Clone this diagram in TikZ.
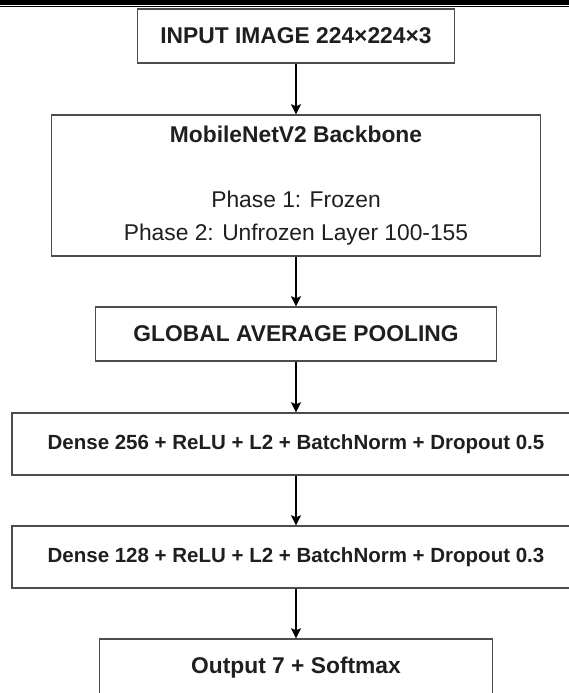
\documentclass[tikz,border=0pt]{standalone}
\usepackage{fontspec}
\setmainfont{Liberation Sans}
\usetikzlibrary{arrows.meta}
\begin{document}
\begin{tikzpicture}[x=1pt,y=-1pt,
  box/.style={draw=black!70, line width=1.4pt, fill=white, inner sep=0pt, align=center, text=black!88},
  boldbig/.style={font=\fontsize{22.8}{32.5}\selectfont\bfseries},
  regbig/.style={font=\fontsize{22.8}{32.5}\selectfont},
  boldmid/.style={font=\fontsize{20.5}{26}\selectfont\bfseries},
  arr/.style={-{Stealth[length=10pt,width=10pt,inset=2pt]}, line width=2pt, black}]
\useasboundingbox (0,0) rectangle (569,693);
\clip (0,0) rectangle (569,693);
% top rule
\fill[black] (0,0) rectangle (569,5);
\fill[black] (0,6) rectangle (569,7.4);
% boxes
\node[box,boldbig,minimum width=317pt,minimum height=54pt] (in) at (296,36) {INPUT IMAGE 224×224×3};
\node[box,regbig,minimum width=489pt,minimum height=141pt] (bb) at (296,185.5)
  {\textbf{MobileNetV2 Backbone}\\[32.5pt]Phase 1: Frozen\\Phase 2: Unfrozen Layer 100-155};
\node[box,boldbig,minimum width=401pt,minimum height=54pt] (gap) at (296,334) {GLOBAL AVERAGE POOLING};
\node[box,boldmid,minimum width=568pt,minimum height=62pt] (d1) at (296,444) {Dense 256 + ReLU + L2 + BatchNorm + Dropout 0.5};
\node[box,boldmid,minimum width=568pt,minimum height=62pt] (d2) at (296,557) {Dense 128 + ReLU + L2 + BatchNorm + Dropout 0.3};
\node[box,boldbig,minimum width=393pt,minimum height=58pt] (out) at (296,668) {Output 7 + Softmax};
% arrows
\draw[arr] (in.south) -- (bb.north);
\draw[arr] (bb.south) -- (gap.north);
\draw[arr] (gap.south) -- (d1.north);
\draw[arr] (d1.south) -- (d2.north);
\draw[arr] (d2.south) -- (out.north);
\end{tikzpicture}
\end{document}
